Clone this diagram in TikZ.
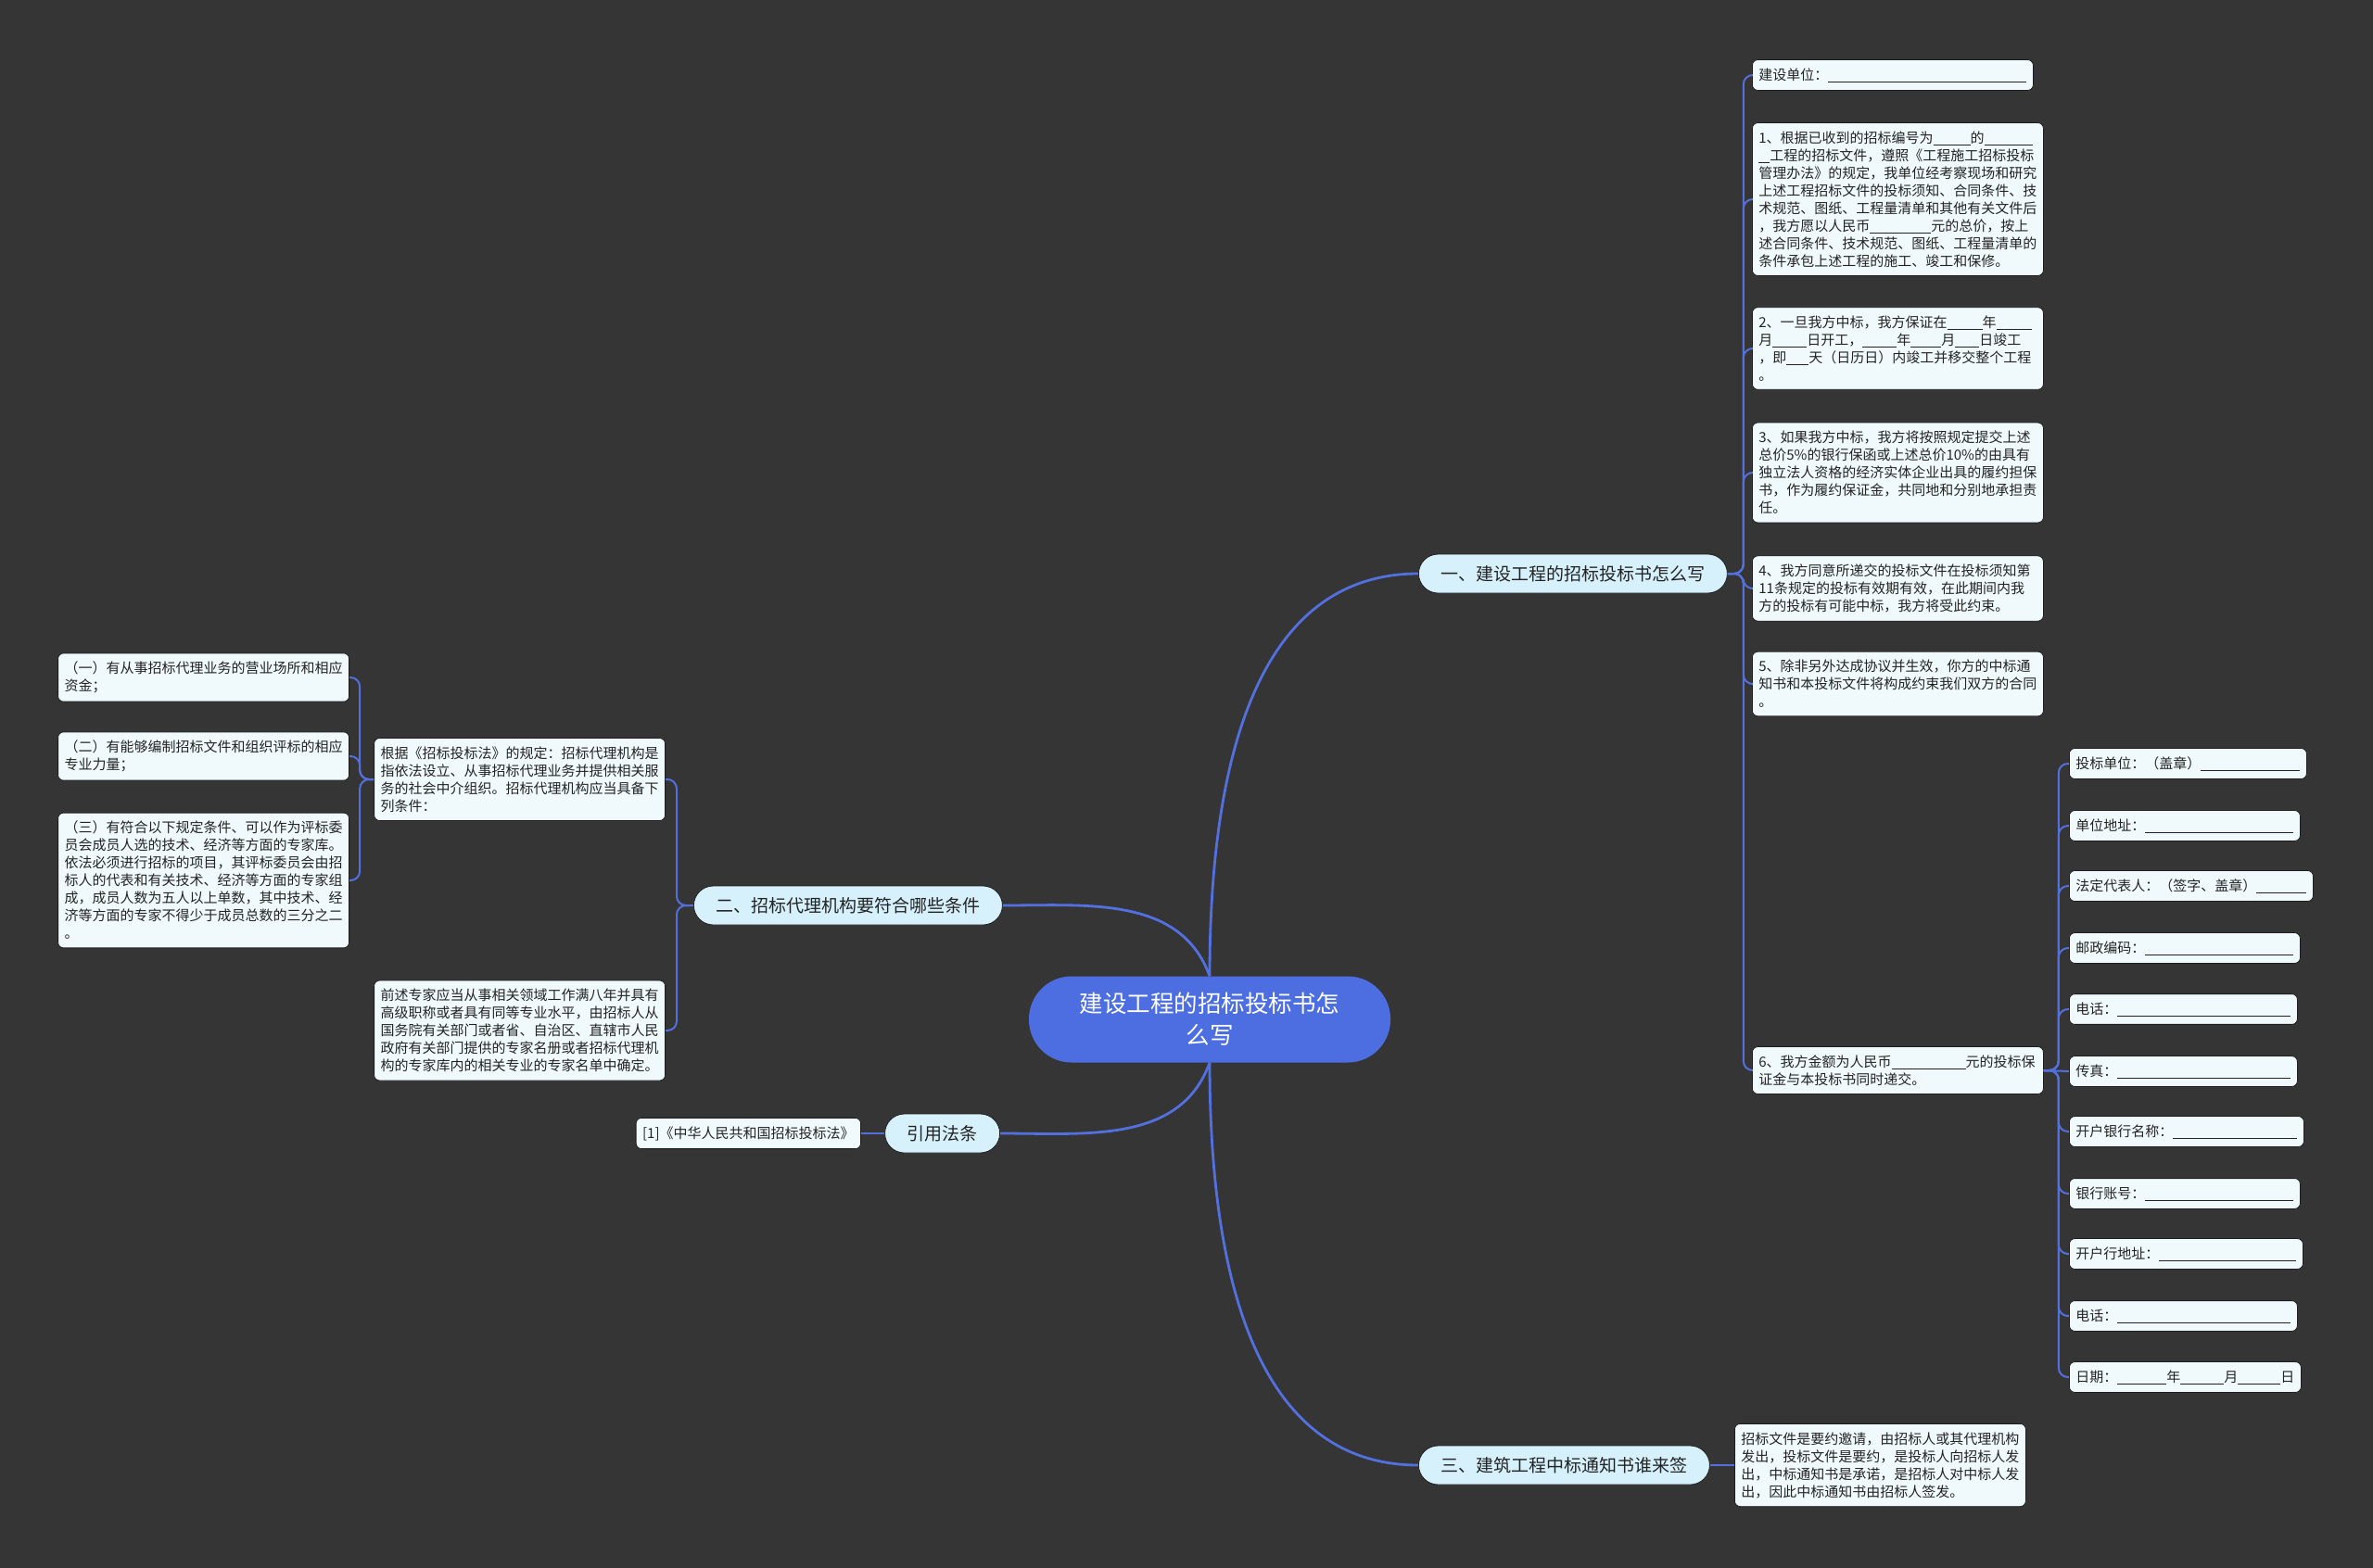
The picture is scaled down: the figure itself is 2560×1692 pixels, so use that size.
\documentclass[tikz,border=0pt]{standalone}
\usepackage{fontspec}
\setmainfont{Noto Sans CJK SC}
\usepackage{tikz}
\usetikzlibrary{positioning}
\definecolor{bgdark}{RGB}{54,53,54}
\definecolor{rootblue}{RGB}{76,110,224}
\definecolor{linkblue}{RGB}{82,112,222}
\definecolor{branchfill}{RGB}{214,241,252}
\definecolor{leaffill}{RGB}{240,250,253}
\definecolor{leafedge}{RGB}{30,30,30}
\definecolor{inkdark}{RGB}{35,35,35}
\newcommand{\blank}[1]{\rule[-2.2pt]{#1pt}{0.8pt}}
\tikzset{
  rootnode/.style={rectangle, fill=rootblue, text=white,
    rounded corners=46pt, minimum width=390pt, minimum height=93pt,
    text width=300pt, align=center, font=\fontsize{25.5}{34}\selectfont},
  branch/.style={rectangle, fill=branchfill, draw=leafedge, line width=0.8pt,
    rounded corners=21pt, minimum height=42pt, inner xsep=24pt,
    font=\fontsize{19}{23}\selectfont, text=inkdark},
  leaf/.style={rectangle, fill=leaffill, draw=leafedge, line width=0.8pt,
    rounded corners=6pt, inner xsep=7pt, inner ysep=9pt, align=left,
    font=\fontsize{15}{19}\selectfont, text=inkdark},
  wide/.style={leaf, text width=300pt},
  trunk/.style={draw=linkblue, line width=2.8pt},
  conn/.style={draw=linkblue, line width=2pt},
  spine/.style={conn, rounded corners=10pt}
}
\begin{document}
\begin{tikzpicture}[x=1pt, y=-1pt]
\useasboundingbox (0,0) rectangle (2560,1692);
\fill[bgdark] (0,0) rectangle (2560,1692);
% centre and branches
\node[rootnode] (top) at (1305,1100) {建设工程的招标投标书怎\\么写};
\node[branch, anchor=west] (secA) at (1530,619) {一、建设工程的招标投标书怎么写};
\node[branch, anchor=west] (secB) at (748,977) {二、招标代理机构要符合哪些条件};
\node[branch, anchor=east] (cite) at (1079,1223) {引用法条};
\node[branch, anchor=west] (secC) at (1530,1581) {三、建筑工程中标通知书谁来签};
% bid letter
\node[leaf, anchor=west] (unit) at (1890,81) {建设单位：\blank{214}};
\node[wide, anchor=west] (itemA) at (1890,215) {1、根据已收到的招标编号为\blank{40}的\blank{52}\\
\blank{12}工程的招标文件，遵照《工程施工招标投标\\
管理办法》的规定，我单位经考察现场和研究\\
上述工程招标文件的投标须知、合同条件、技\\
术规范、图纸、工程量清单和其他有关文件后\\
，我方愿以人民币\blank{66}元的总价，按上\\
述合同条件、技术规范、图纸、工程量清单的\\
条件承包上述工程的施工、竣工和保修。};
\node[wide, anchor=west] (itemB) at (1890,376) {2、一旦我方中标，我方保证在\blank{38}年\blank{38}\\
月\blank{37}日开工，\blank{37}年\blank{33}月\blank{26}日竣工\\
，即\blank{24}天（日历日）内竣工并移交整个工程\\
。};
\node[wide, anchor=west] (itemC) at (1890,510) {3、如果我方中标，我方将按照规定提交上述\\
总价5\%的银行保函或上述总价10\%的由具有\\
独立法人资格的经济实体企业出具的履约担保\\
书，作为履约保证金，共同地和分别地承担责\\
任。};
\node[wide, anchor=west] (itemD) at (1890,635) {4、我方同意所递交的投标文件在投标须知第\\
11条规定的投标有效期有效，在此期间内我\\
方的投标有可能中标，我方将受此约束。};
\node[wide, anchor=west] (itemE) at (1890,738) {5、除非另外达成协议并生效，你方的中标通\\
知书和本投标文件将构成约束我们双方的合同\\
。};
\node[wide, anchor=west] (itemF) at (1890,1155) {6、我方金额为人民币\blank{80}元的投标保\\
证金与本投标书同时递交。};
% signature block
\node[leaf, anchor=west] (sign1) at (2232,824) {投标单位：（盖章）\blank{107}};
\node[leaf, anchor=west] (sign2) at (2232,891) {单位地址：\blank{160}};
\node[leaf, anchor=west] (sign3) at (2232,956) {法定代表人：（签字、盖章）\blank{54}};
\node[leaf, anchor=west] (sign4) at (2232,1023) {邮政编码：\blank{160}};
\node[leaf, anchor=west] (sign5) at (2232,1089) {电话：\blank{187}};
\node[leaf, anchor=west] (sign6) at (2232,1156) {传真：\blank{187}};
\node[leaf, anchor=west] (sign7) at (2232,1221) {开户银行名称：\blank{134}};
\node[leaf, anchor=west] (sign8) at (2232,1288) {银行账号：\blank{160}};
\node[leaf, anchor=west] (sign9) at (2232,1353) {开户行地址：\blank{148}};
\node[leaf, anchor=west] (sign10) at (2232,1420) {电话：\blank{187}};
\node[leaf, anchor=west] (sign11) at (2232,1486) {日期：\blank{53}年\blank{47}月\blank{46}日};
% notice
\node[wide, anchor=west] (notice) at (1871,1581) {招标文件是要约邀请，由招标人或其代理机构\\
发出，投标文件是要约，是投标人向招标人发\\
出，中标通知书是承诺，是招标人对中标人发\\
出，因此中标通知书由招标人签发。};
% agency conditions
\node[wide, anchor=east] (basis) at (718,841) {根据《招标投标法》的规定：招标代理机构是\\
指依法设立、从事招标代理业务并提供相关服\\
务的社会中介组织。招标代理机构应当具备下\\
列条件：};
\node[wide, anchor=east] (expert) at (718,1112) {前述专家应当从事相关领域工作满八年并具有\\
高级职称或者具有同等专业水平，由招标人从\\
国务院有关部门或者省、自治区、直辖市人民\\
政府有关部门提供的专家名册或者招标代理机\\
构的专家库内的相关专业的专家名单中确定。};
\node[wide, anchor=east] (condA) at (377,731) {（一）有从事招标代理业务的营业场所和相应\\
资金；};
\node[wide, anchor=east] (condB) at (377,816) {（二）有能够编制招标文件和组织评标的相应\\
专业力量；};
\node[wide, anchor=east] (condC) at (377,950) {（三）有符合以下规定条件、可以作为评标委\\
员会成员人选的技术、经济等方面的专家库。\\
依法必须进行招标的项目，其评标委员会由招\\
标人的代表和有关技术、经济等方面的专家组\\
成，成员人数为五人以上单数，其中技术、经\\
济等方面的专家不得少于成员总数的三分之二\\
。};
\node[leaf, anchor=east] (lawref) at (929,1223) {[1]《中华人民共和国招标投标法》};
% links from the centre
\draw[trunk] (top.north) to[out=90, in=180] (secA.west);
\draw[trunk] (top.north) to[out=110, in=0] (secB.east);
\draw[trunk] (top.south) to[out=-110, in=0] (cite.east);
\draw[trunk] (top.south) to[out=-90, in=180] (secC.west);
% links to the leaves
\draw[spine] (secA.east) -- ++(17,0) |- (unit.west);
\draw[spine] (secA.east) -- ++(17,0) |- (itemA.west);
\draw[spine] (secA.east) -- ++(17,0) |- (itemB.west);
\draw[spine] (secA.east) -- ++(17,0) |- (itemC.west);
\draw[spine] (secA.east) -- ++(17,0) |- (itemD.west);
\draw[spine] (secA.east) -- ++(17,0) |- (itemE.west);
\draw[spine] (secA.east) -- ++(17,0) |- (itemF.west);
\draw[spine] (itemF.east) -- ++(16,0) |- (sign1.west);
\draw[spine] (itemF.east) -- ++(16,0) |- (sign2.west);
\draw[spine] (itemF.east) -- ++(16,0) |- (sign3.west);
\draw[spine] (itemF.east) -- ++(16,0) |- (sign4.west);
\draw[spine] (itemF.east) -- ++(16,0) |- (sign5.west);
\draw[conn] (itemF.east) -- (sign6.west);
\draw[spine] (itemF.east) -- ++(16,0) |- (sign7.west);
\draw[spine] (itemF.east) -- ++(16,0) |- (sign8.west);
\draw[spine] (itemF.east) -- ++(16,0) |- (sign9.west);
\draw[spine] (itemF.east) -- ++(16,0) |- (sign10.west);
\draw[spine] (itemF.east) -- ++(16,0) |- (sign11.west);
\draw[conn] (secC.east) -- (notice.west);
\draw[conn] (cite.west) -- (lawref.east);
\draw[spine] (secB.west) -- ++(-18,0) |- (basis.east);
\draw[spine] (secB.west) -- ++(-18,0) |- (expert.east);
\draw[spine] (basis.west) -- ++(-15,0) |- (condA.east);
\draw[spine] (basis.west) -- ++(-15,0) |- (condB.east);
\draw[spine] (basis.west) -- ++(-15,0) |- (condC.east);
\end{tikzpicture}
\end{document}
